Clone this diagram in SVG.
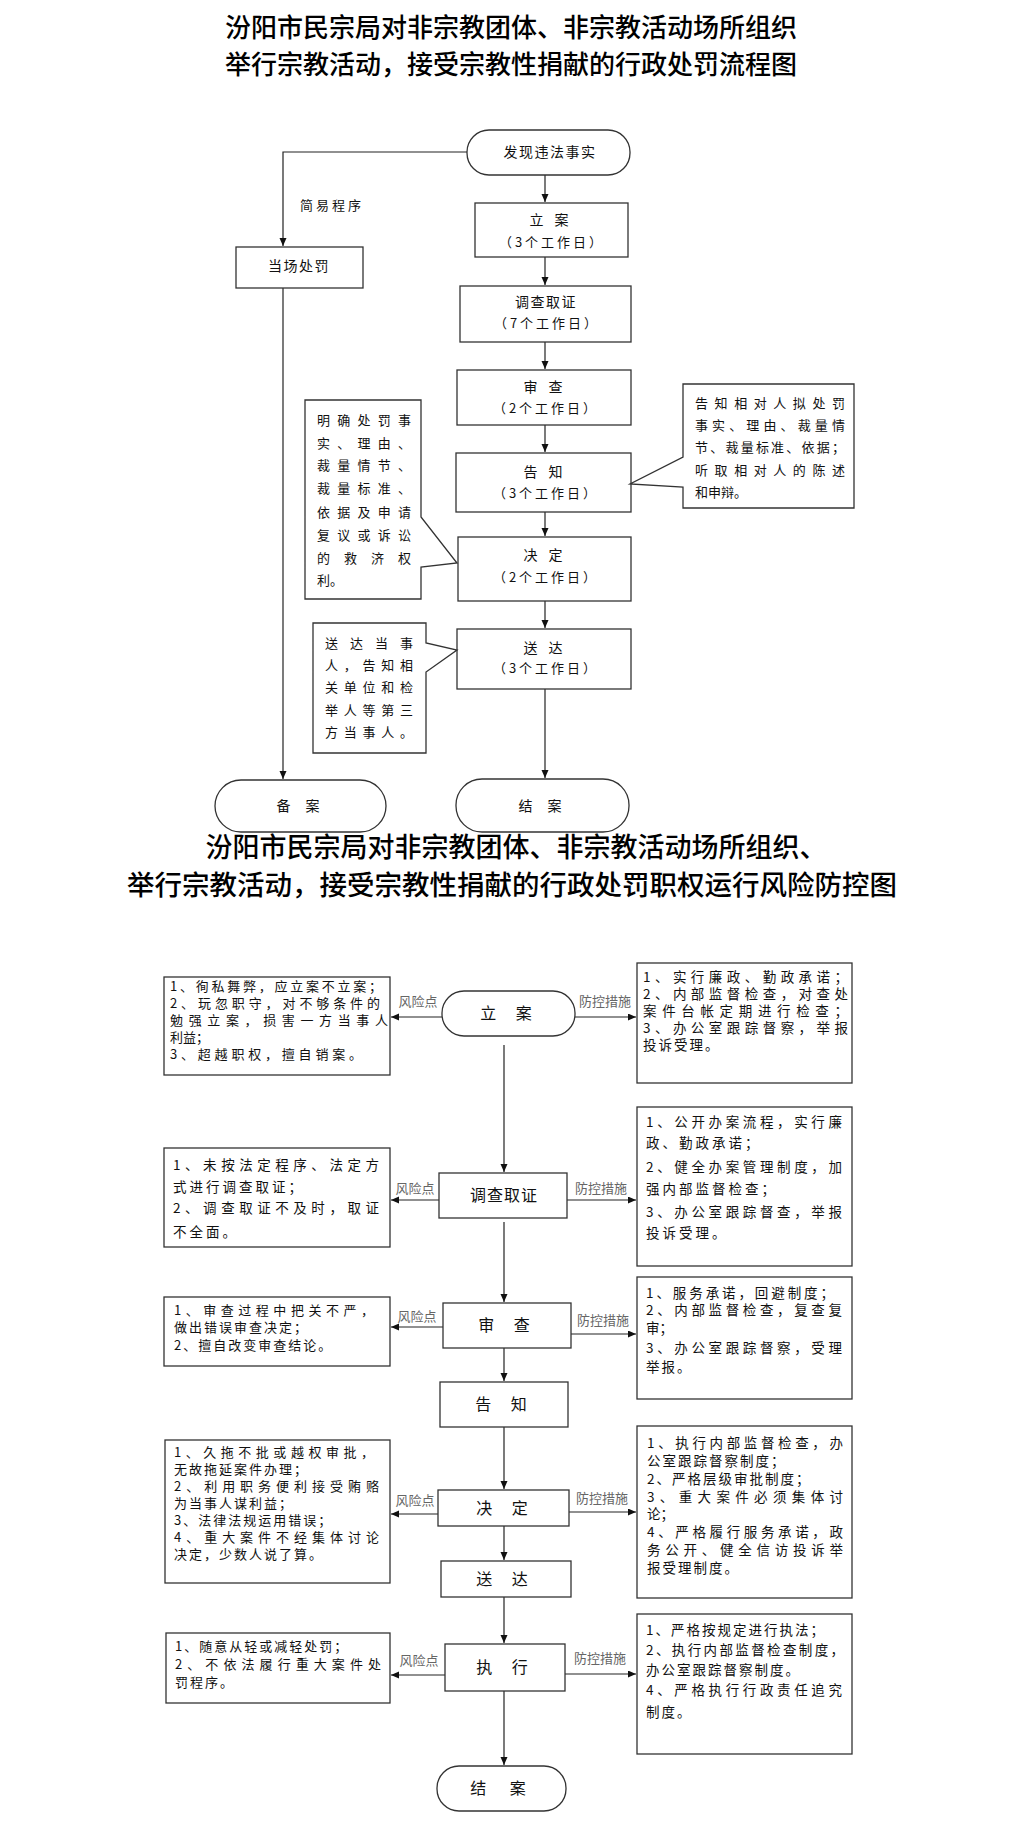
<svg xmlns="http://www.w3.org/2000/svg" width="1022" height="1832" viewBox="0 0 1022 1832">
<defs>
<marker id="ah" markerUnits="userSpaceOnUse" markerWidth="9" markerHeight="8" refX="8" refY="3.5" orient="auto">
<path d="M0,0 L8,3.5 L0,7 Z" fill="#111"/>
</marker>
</defs>
<style>
.bx{fill:#fff;stroke:#333;stroke-width:1.3}
.ln{fill:none;stroke:#222;stroke-width:1.2}
.t{font-family:"Noto Sans CJK SC","Noto Sans",sans-serif;fill:#111}
.ttl{font-family:"Noto Sans CJK SC","Noto Sans",sans-serif;fill:#000;font-weight:500;text-anchor:middle}
.n1{font-size:14px;text-anchor:middle}
.d1{font-size:13px;text-anchor:middle;letter-spacing:3px}
.note{font-size:13px}
.n2{font-size:16px;text-anchor:middle}
.s{font-size:13.5px}
.sl{font-size:13px}
.lb{font-size:13px;fill:#666;text-anchor:middle}
</style>
<rect width="1022" height="1832" fill="#fff"/>

<g id="title1">
<text class="ttl" x="511" y="37" font-size="26px">汾阳市民宗局对非宗教团体、非宗教活动场所组织</text>
<text class="ttl" x="511" y="74" font-size="26px">举行宗教活动，接受宗教性捐献的行政处罚流程图</text>
</g>

<g id="connectors1">
<path class="ln" d="M467,152 H283 V246" marker-end="url(#ah)"/>
<path class="ln" d="M545,175 V202" marker-end="url(#ah)"/>
<path class="ln" d="M545,257 V285" marker-end="url(#ah)"/>
<path class="ln" d="M545,342 V369" marker-end="url(#ah)"/>
<path class="ln" d="M545,425 V452" marker-end="url(#ah)"/>
<path class="ln" d="M545,512 V536" marker-end="url(#ah)"/>
<path class="ln" d="M545,601 V628" marker-end="url(#ah)"/>
<path class="ln" d="M545,689 V778" marker-end="url(#ah)"/>
<path class="ln" d="M283,288 V779" marker-end="url(#ah)"/>
<text class="t note" x="300" y="210" letter-spacing="3">简易程序</text>
</g>

<g id="p1-start"><rect class="bx" x="467" y="130" width="163" height="45" rx="22"/><text class="t n1" x="550" y="157" letter-spacing="1.5">发现违法事实</text></g>
<g id="p1-spot"><rect class="bx" x="236" y="247" width="127" height="41"/><text class="t n1" x="299" y="271" letter-spacing="1.5">当场处罚</text></g>
<g id="p1-lian"><rect class="bx" x="475" y="203" width="153" height="54"/><text class="t n1" x="551" y="225" letter-spacing="4">立 案</text><text class="t d1" x="552" y="247">（3个工作日）</text></g>
<g id="p1-diaocha"><rect class="bx" x="460" y="286" width="171" height="56"/><text class="t n1" x="546" y="307" letter-spacing="1.5">调查取证</text><text class="t d1" x="547" y="328">（7个工作日）</text></g>
<g id="p1-shencha"><rect class="bx" x="457" y="370" width="174" height="55"/><text class="t n1" x="545" y="392" letter-spacing="4">审 查</text><text class="t d1" x="546" y="413">（2个工作日）</text></g>
<g id="p1-gaozhi"><rect class="bx" x="456" y="453" width="175" height="59"/><text class="t n1" x="545" y="477" letter-spacing="4">告 知</text><text class="t d1" x="546" y="498">（3个工作日）</text></g>
<g id="p1-jueding"><rect class="bx" x="458" y="537" width="173" height="64"/><text class="t n1" x="545" y="560" letter-spacing="4">决 定</text><text class="t d1" x="546" y="582">（2个工作日）</text></g>
<g id="p1-songda"><rect class="bx" x="457" y="629" width="174" height="60"/><text class="t n1" x="545" y="653" letter-spacing="4">送 达</text><text class="t d1" x="546" y="673">（3个工作日）</text></g>
<g id="p1-beian"><rect class="bx" x="215" y="780" width="171" height="52" rx="26"/><text class="t n1" x="301" y="811" letter-spacing="6">备 案</text></g>
<g id="p1-jiean"><rect class="bx" x="456" y="779" width="173" height="53" rx="26"/><text class="t n1" x="543" y="811" letter-spacing="6">结 案</text></g>

<g id="p1-note-right">
<path class="bx" d="M683,384 H854 V508 H683 V487 L630,484 L683,457 Z"/>
<text class="t note" x="695" y="408" textLength="150" lengthAdjust="spacing">告知相对人拟处罚</text>
<text class="t note" x="695" y="430" textLength="150" lengthAdjust="spacing">事实、理由、裁量情</text>
<text class="t note" x="695" y="452" textLength="150" lengthAdjust="spacing">节、裁量标准、依据；</text>
<text class="t note" x="695" y="475" textLength="150" lengthAdjust="spacing">听取相对人的陈述</text>
<text class="t note" x="695" y="497">和申辩。</text>
</g>
<g id="p1-note-left1">
<path class="bx" d="M305,400 H421 V517 L457,563 L421,567 V599 H305 Z"/>
<text class="t note" x="317" y="425" textLength="94" lengthAdjust="spacing">明确处罚事</text>
<text class="t note" x="317" y="448" textLength="94" lengthAdjust="spacing">实、理由、</text>
<text class="t note" x="317" y="470" textLength="94" lengthAdjust="spacing">裁量情节、</text>
<text class="t note" x="317" y="493" textLength="94" lengthAdjust="spacing">裁量标准、</text>
<text class="t note" x="317" y="517" textLength="94" lengthAdjust="spacing">依据及申请</text>
<text class="t note" x="317" y="540" textLength="94" lengthAdjust="spacing">复议或诉讼</text>
<text class="t note" x="317" y="563" textLength="94" lengthAdjust="spacing">的 救 济 权</text>
<text class="t note" x="317" y="585">利。</text>
</g>
<g id="p1-note-left2">
<path class="bx" d="M313,623 H426 V643 L457,650 L426,672 V753 H313 Z"/>
<text class="t note" x="325" y="648" textLength="88" lengthAdjust="spacing">送达当事</text>
<text class="t note" x="325" y="670" textLength="88" lengthAdjust="spacing">人，告知相</text>
<text class="t note" x="325" y="692" textLength="88" lengthAdjust="spacing">关单位和检</text>
<text class="t note" x="325" y="715" textLength="88" lengthAdjust="spacing">举人等第三</text>
<text class="t note" x="325" y="737" textLength="88" lengthAdjust="spacing">方当事人。</text>
</g>

<g id="title2">
<text class="ttl" x="516" y="857" font-size="27px">汾阳市民宗局对非宗教团体、非宗教活动场所组织、</text>
<text class="ttl" x="512" y="895" font-size="27.5px">举行宗教活动，接受宗教性捐献的行政处罚职权运行风险防控图</text>
</g>

<g id="connectors2">
<path class="ln" d="M504,1045 V1172" marker-end="url(#ah)"/>
<path class="ln" d="M504,1222 V1302" marker-end="url(#ah)"/>
<path class="ln" d="M504,1348 V1381" marker-end="url(#ah)"/>
<path class="ln" d="M504,1427 V1489" marker-end="url(#ah)"/>
<path class="ln" d="M504,1526 V1560" marker-end="url(#ah)"/>
<path class="ln" d="M504,1597 V1643" marker-end="url(#ah)"/>
<path class="ln" d="M504,1691 V1765" marker-end="url(#ah)"/>
<path class="ln" d="M442,1017 H391" marker-end="url(#ah)"/>
<path class="ln" d="M575,1017 H636" marker-end="url(#ah)"/>
<path class="ln" d="M439,1200 H391" marker-end="url(#ah)"/>
<path class="ln" d="M567,1200 H636" marker-end="url(#ah)"/>
<path class="ln" d="M443,1327 H391" marker-end="url(#ah)"/>
<path class="ln" d="M571,1334 H636" marker-end="url(#ah)"/>
<path class="ln" d="M438,1514 H391" marker-end="url(#ah)"/>
<path class="ln" d="M569,1512 H636" marker-end="url(#ah)"/>
<path class="ln" d="M445,1675 H391" marker-end="url(#ah)"/>
<path class="ln" d="M565,1674 H636" marker-end="url(#ah)"/>
<text class="t lb" x="418" y="1006">风险点</text>
<text class="t lb" x="605" y="1006">防控措施</text>
<text class="t lb" x="415" y="1193">风险点</text>
<text class="t lb" x="601" y="1193">防控措施</text>
<text class="t lb" x="417" y="1321">风险点</text>
<text class="t lb" x="603" y="1325">防控措施</text>
<text class="t lb" x="415" y="1505">风险点</text>
<text class="t lb" x="602" y="1503">防控措施</text>
<text class="t lb" x="419" y="1665">风险点</text>
<text class="t lb" x="600" y="1663">防控措施</text>
</g>

<g id="p2-lian"><rect class="bx" x="442" y="991" width="133" height="45" rx="22"/><text class="t n2" x="510" y="1019" letter-spacing="8">立 案</text></g>
<g id="p2-diaocha"><rect class="bx" x="439" y="1173" width="128" height="45"/><text class="t n2" x="504" y="1201" letter-spacing="1">调查取证</text></g>
<g id="p2-shencha"><rect class="bx" x="443" y="1303" width="128" height="45"/><text class="t n2" x="508" y="1331" letter-spacing="8">审 查</text></g>
<g id="p2-gaozhi"><rect class="bx" x="440" y="1382" width="128" height="45"/><text class="t n2" x="505" y="1410" letter-spacing="8">告 知</text></g>
<g id="p2-jueding"><rect class="bx" x="438" y="1490" width="131" height="36"/><text class="t n2" x="506" y="1514" letter-spacing="8">决 定</text></g>
<g id="p2-songda"><rect class="bx" x="441" y="1561" width="130" height="36"/><text class="t n2" x="506" y="1585" letter-spacing="8">送 达</text></g>
<g id="p2-zhixing"><rect class="bx" x="445" y="1644" width="120" height="47"/><text class="t n2" x="506" y="1673" letter-spacing="8">执 行</text></g>
<g id="p2-jiean"><rect class="bx" x="437" y="1766" width="129" height="45" rx="22"/><text class="t n2" x="503" y="1794" letter-spacing="10">结  案</text></g>

<g id="p2-risk1">
<rect class="bx" x="164" y="977" width="226" height="98"/>
<text class="t sl" x="170" y="991" textLength="212" lengthAdjust="spacing">1、徇私舞弊，应立案不立案；</text>
<text class="t sl" x="170" y="1008" textLength="210" lengthAdjust="spacing">2、玩忽职守，对不够条件的</text>
<text class="t sl" x="170" y="1025" textLength="218" lengthAdjust="spacing">勉强立案，损害一方当事人</text>
<text class="t sl" x="170" y="1042">利益；</text>
<text class="t sl" x="170" y="1059" textLength="192" lengthAdjust="spacing">3、超越职权，擅自销案。</text>
</g>
<g id="p2-ctrl1">
<rect class="bx" x="637" y="963" width="215" height="120"/>
<text class="t s" x="643" y="982" textLength="205" lengthAdjust="spacing">1、实行廉政、勤政承诺；</text>
<text class="t s" x="643" y="999" textLength="205" lengthAdjust="spacing">2、内部监督检查，对查处</text>
<text class="t s" x="643" y="1016" textLength="205" lengthAdjust="spacing">案件台帐定期进行检查；</text>
<text class="t s" x="643" y="1033" textLength="205" lengthAdjust="spacing">3、办公室跟踪督察，举报</text>
<text class="t s" x="643" y="1050" letter-spacing="2">投诉受理。</text>
</g>
<g id="p2-risk2">
<rect class="bx" x="164" y="1148" width="226" height="99"/>
<text class="t s" x="173" y="1170" textLength="206" lengthAdjust="spacing">1、未按法定程序、法定方</text>
<text class="t s" x="173" y="1192" letter-spacing="3">式进行调查取证；</text>
<text class="t s" x="173" y="1213" textLength="206" lengthAdjust="spacing">2、调查取证不及时，取证</text>
<text class="t s" x="173" y="1237" letter-spacing="3">不全面。</text>
</g>
<g id="p2-ctrl2">
<rect class="bx" x="637" y="1107" width="215" height="159"/>
<text class="t s" x="646" y="1127" textLength="196" lengthAdjust="spacing">1、公开办案流程，实行廉</text>
<text class="t s" x="646" y="1148" letter-spacing="3">政、勤政承诺；</text>
<text class="t s" x="646" y="1172" textLength="196" lengthAdjust="spacing">2、健全办案管理制度，加</text>
<text class="t s" x="646" y="1194" letter-spacing="3">强内部监督检查；</text>
<text class="t s" x="646" y="1217" textLength="196" lengthAdjust="spacing">3、办公室跟踪督查，举报</text>
<text class="t s" x="646" y="1238" letter-spacing="3">投诉受理。</text>
</g>
<g id="p2-risk3">
<rect class="bx" x="164" y="1297" width="226" height="69"/>
<text class="t sl" x="174" y="1315" textLength="200" lengthAdjust="spacing">1、审查过程中把关不严，</text>
<text class="t sl" x="174" y="1332" letter-spacing="2">做出错误审查决定；</text>
<text class="t sl" x="174" y="1350" letter-spacing="2">2、擅自改变审查结论。</text>
</g>
<g id="p2-ctrl3">
<rect class="bx" x="637" y="1277" width="215" height="122"/>
<text class="t s" x="646" y="1298" textLength="188" lengthAdjust="spacing">1、服务承诺，回避制度；</text>
<text class="t s" x="646" y="1315" textLength="196" lengthAdjust="spacing">2、内部监督检查，复查复</text>
<text class="t s" x="646" y="1333">审；</text>
<text class="t s" x="646" y="1353" textLength="196" lengthAdjust="spacing">3、办公室跟踪督察，受理</text>
<text class="t s" x="646" y="1372" letter-spacing="2">举报。</text>
</g>
<g id="p2-risk4">
<rect class="bx" x="165" y="1440" width="225" height="143"/>
<text class="t sl" x="174" y="1457" textLength="200" lengthAdjust="spacing">1、久拖不批或越权审批，</text>
<text class="t sl" x="174" y="1474" letter-spacing="2">无故拖延案件办理；</text>
<text class="t sl" x="174" y="1491" textLength="205" lengthAdjust="spacing">2、利用职务便利接受贿赂</text>
<text class="t sl" x="174" y="1508" letter-spacing="2">为当事人谋利益；</text>
<text class="t sl" x="174" y="1525" letter-spacing="2">3、法律法规运用错误；</text>
<text class="t sl" x="174" y="1542" textLength="205" lengthAdjust="spacing">4、重大案件不经集体讨论</text>
<text class="t sl" x="174" y="1559" letter-spacing="2">决定，少数人说了算。</text>
</g>
<g id="p2-ctrl4">
<rect class="bx" x="637" y="1426" width="215" height="172"/>
<text class="t s" x="647" y="1448" textLength="196" lengthAdjust="spacing">1、执行内部监督检查，办</text>
<text class="t s" x="647" y="1466" letter-spacing="2">公室跟踪督察制度；</text>
<text class="t s" x="647" y="1484" letter-spacing="2">2、严格层级审批制度；</text>
<text class="t s" x="647" y="1502" textLength="196" lengthAdjust="spacing">3、重大案件必须集体讨</text>
<text class="t s" x="647" y="1519">论；</text>
<text class="t s" x="647" y="1537" textLength="196" lengthAdjust="spacing">4、严格履行服务承诺，政</text>
<text class="t s" x="647" y="1555" textLength="196" lengthAdjust="spacing">务公开、健全信访投诉举</text>
<text class="t s" x="647" y="1573" letter-spacing="2">报受理制度。</text>
</g>
<g id="p2-risk5">
<rect class="bx" x="166" y="1633" width="224" height="70"/>
<text class="t sl" x="175" y="1651" letter-spacing="2">1、随意从轻或减轻处罚；</text>
<text class="t sl" x="175" y="1669" textLength="206" lengthAdjust="spacing">2、不依法履行重大案件处</text>
<text class="t sl" x="175" y="1687" letter-spacing="2">罚程序。</text>
</g>
<g id="p2-ctrl5">
<rect class="bx" x="637" y="1614" width="215" height="140"/>
<text class="t s" x="646" y="1635" letter-spacing="2">1、严格按规定进行执法；</text>
<text class="t s" x="646" y="1655" textLength="198" lengthAdjust="spacing">2、执行内部监督检查制度，</text>
<text class="t s" x="646" y="1675" letter-spacing="2">办公室跟踪督察制度。</text>
<text class="t s" x="646" y="1695" textLength="196" lengthAdjust="spacing">4、严格执行行政责任追究</text>
<text class="t s" x="646" y="1717" letter-spacing="2">制度。</text>
</g>
</svg>
